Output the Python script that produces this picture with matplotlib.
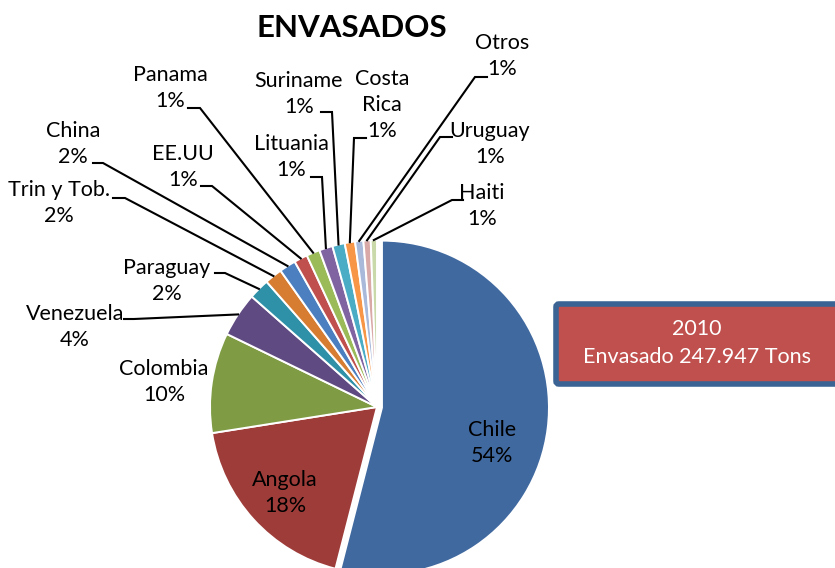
import numpy as np
import matplotlib.pyplot as plt
from matplotlib.patches import FancyBboxPatch

plt.rcParams['font.family'] = ['Lato', 'DejaVu Sans']

# data (share of packaged exports, %)
paises = ['Chile', 'Angola', 'Colombia', 'Venezuela', 'Paraguay', 'Trin y Tob.',
          'China', 'EE.UU', 'Panama', 'Lituania', 'Suriname', 'Costa Rica',
          'Otros', 'Uruguay', 'Haiti']
valores = [54.0, 18.5, 9.7, 4.3, 2.0, 1.7, 1.6, 1.3, 1.3, 1.3, 1.2, 1.0, 0.8, 0.7, 0.6]
colores = ['#4069A0', '#9E3C39', '#7F9C45', '#604A82', '#2F91A8', '#D77D32',
           '#4B7FC0', '#C0504D', '#9BBB59', '#8064A2', '#4BACC6', '#F79646',
           '#A9B9DA', '#D9A9A8', '#C9D9A9']
titulo = 'ENVASADOS'
caja_txt = '2010\nEnvasado 247.947 Tons'

W, H = 835, 568
fig = plt.figure(figsize=(W / 100, H / 100), dpi=100)
ax = fig.add_axes([0, 0, 1, 1])
ax.set_xlim(0, W)
ax.set_ylim(0, H)
ax.set_aspect('equal')
ax.axis('off')


def py(y):
    # pixel row (from top) -> data y
    return H - y


cx, cy, R = 377, py(407), 167
explode = [5] + [0] * (len(valores) - 1)
wedges, _ = ax.pie(valores, colors=colores, startangle=90, counterclock=False,
                   center=(cx, cy), radius=R, explode=explode,
                   wedgeprops=dict(edgecolor='white', linewidth=1.4))
ax.set_xlim(0, W)
ax.set_ylim(0, H)

total = sum(valores)
fs = 15.5

# label block centres (px) and leader elbows (text side, elbow)
pos = {
    'Chile': (492, 443), 'Angola': (285, 493), 'Colombia': (164, 382),
    'Venezuela': (75, 327), 'Paraguay': (167, 281), 'Trin y Tob.': (59, 203),
    'China': (73, 144), 'EE.UU': (183, 167), 'Panama': (170, 88),
    'Lituania': (291, 157), 'Suriname': (299, 94), 'Costa Rica': (382, 105),
    'Otros': (502, 56), 'Uruguay': (490, 144), 'Haiti': (482, 206),
}
leaders = {
    'Venezuela': ((124, 319), (134, 319)), 'Paraguay': ((215, 273), (225, 273)),
    'Trin y Tob.': ((113, 198), (125, 198)), 'China': ((93, 163), (103, 163)),
    'EE.UU': ((201, 186), (212, 186)), 'Panama': ((188, 108), (200, 108)),
    'Lituania': ((311, 177), (322, 177)), 'Suriname': ((321, 112), (332, 112)),
    'Costa Rica': ((366, 138), (354, 138)), 'Otros': ((487, 77), (475, 77)),
    'Uruguay': ((452, 137), (440, 137)), 'Haiti': ((463, 200), (452, 200)),
}

for w, name, v in zip(wedges, paises, valores):
    nombre = name.replace(' ', '\n') if name == 'Costa Rica' else name
    txt = f'{nombre}\n{v / total * 100:.0f}%'
    x, y = pos[name]
    ax.text(x, py(y), txt, ha='center', va='center', fontsize=fs,
            color='black', linespacing=1.4)
    if name in leaders:
        (x0, y0), (x1, y1) = leaders[name]
        ang = np.deg2rad((w.theta1 + w.theta2) / 2)
        ex = w.center[0] + w.r * np.cos(ang)
        ey = w.center[1] + w.r * np.sin(ang)
        ax.plot([x0, x1, ex], [py(y0), py(y1), ey], color='black', lw=1.5,
                solid_joinstyle='miter')

ax.text(352, py(28), titulo, ha='center', va='center', fontsize=22.5,
        fontweight='bold')

caja = FancyBboxPatch((556, py(384)), 300, 80,
                      boxstyle='round,pad=0,rounding_size=3',
                      facecolor='#C0504D', edgecolor='#3B6494', linewidth=4,
                      clip_on=False)
ax.add_patch(caja)
ax.text(697, py(343), caja_txt, ha='center', va='center', fontsize=15.5,
        color='white', linespacing=1.55)

fig.savefig('out.png', dpi=100)
